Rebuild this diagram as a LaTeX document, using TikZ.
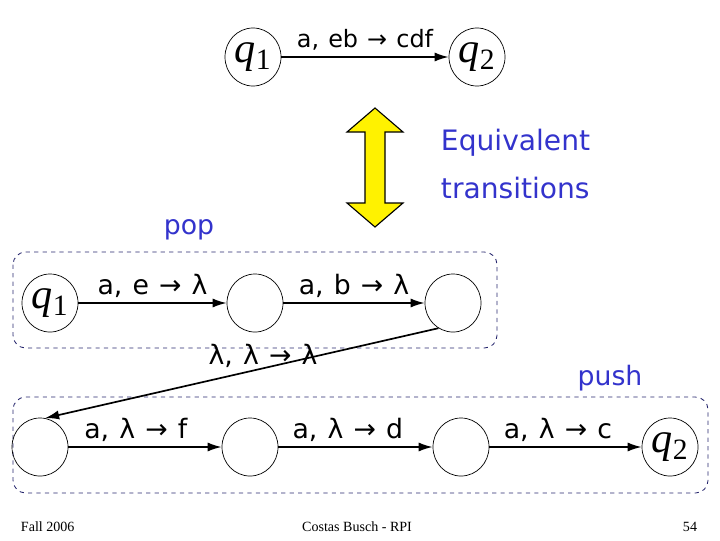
\documentclass[tikz,border=0pt]{standalone}
\usepackage{fontspec}
\setmainfont{DejaVu Sans}
\newfontfamily\timesfont{Liberation Serif}
\usetikzlibrary{arrows.meta,shapes.geometric}
\definecolor{slideblue}{RGB}{51,51,204}
\definecolor{boxnavy}{RGB}{40,40,110}
\newcommand\qname[1]{{\itshape q}\textsubscript{#1}}

\begin{document}
\begin{tikzpicture}[x=0.025cm, y=-0.025cm,
  state/.style={draw, ellipse, line width=0.5pt, minimum width=1.4cm,
    minimum height=1.45cm, inner sep=0pt, font=\timesfont\fontsize{30}{32}\selectfont},
  move/.style={-{Latex[length=10pt,width=6.5pt]}, line width=1.2pt},
  lbl/.style={font=\fontsize{19}{21}\selectfont, inner sep=1pt,
    execute at begin node={\spaceskip=0.38em\relax}},
  note/.style={text=slideblue, font=\fontsize{20}{24}\selectfont},
  group/.style={draw=boxnavy, dashed, rounded corners=9pt, line width=0.6pt},
  foot/.style={font=\timesfont\fontsize{10}{12}\selectfont}]
  \useasboundingbox (0,0) rectangle (720,540);

  % the single transition
  \node[state] (t1) at (253,57) {\qname{1}};
  \node[state] (t2) at (477,57) {\qname{2}};
  \draw[move] (t1) -- (t2) node[midway, above=3pt, lbl, font=\fontsize{17}{19}\selectfont] {a, eb → cdf};

  % equivalence arrow
  \draw[fill=yellow, line width=0.8pt] (375,108) -- (403,132) -- (385,132)
    -- (385,203) -- (403,203) -- (375,227) -- (347,203) -- (365,203)
    -- (365,132) -- (347,132) -- cycle;
  \node[note, anchor=west] (eq1) at (436,143) {Equivalent};
  \node[note, anchor=west] (eq2) at (436,188) {transitions};

  % pop part
  \node[note, font=\fontsize{19}{22}\selectfont] (pop) at (189,230) {pop};
  \draw[group] (13,252) rectangle (497,348);
  \node[state] (a1) at (50,303) {\qname{1}};
  \node[state] (a2) at (255,303) {};
  \node[state] (a3) at (453,303) {};
  \draw[move] (a1) -- (a2) node[midway, above=2pt, lbl] {a, e → λ};
  \draw[move] (a2) -- (a3) node[midway, above=2pt, lbl] {a, b → λ};

  % push part
  \node[lbl] (mid) at (263,356) {λ, λ → λ};
  \node[note, font=\fontsize{19}{22}\selectfont] (push) at (610,378) {push};
  \draw[group] (13,397) rectangle (708,493);
  \node[state] (b1) at (40,447) {};
  \node[state] (b2) at (250,447) {};
  \node[state] (b3) at (461,447) {};
  \node[state] (b4) at (670,447) {\qname{2}};
  \draw[move] (a3.240) -- (b1.80);
  \draw[move] (b1) -- (b2) node[pos=0.44, above=2pt, lbl] {a, λ → f};
  \draw[move] (b2) -- (b3) node[pos=0.45, above=2pt, lbl] {a, λ → d};
  \draw[move] (b3) -- (b4) node[pos=0.45, above=2pt, lbl] {a, λ → c};

  % footer
  \node[foot, anchor=west] (date) at (16,527) {Fall 2006};
  \node[foot] (author) at (357,527) {Costas Busch - RPI};
  \node[foot, anchor=east] (page) at (702,527) {54};
\end{tikzpicture}
\end{document}
